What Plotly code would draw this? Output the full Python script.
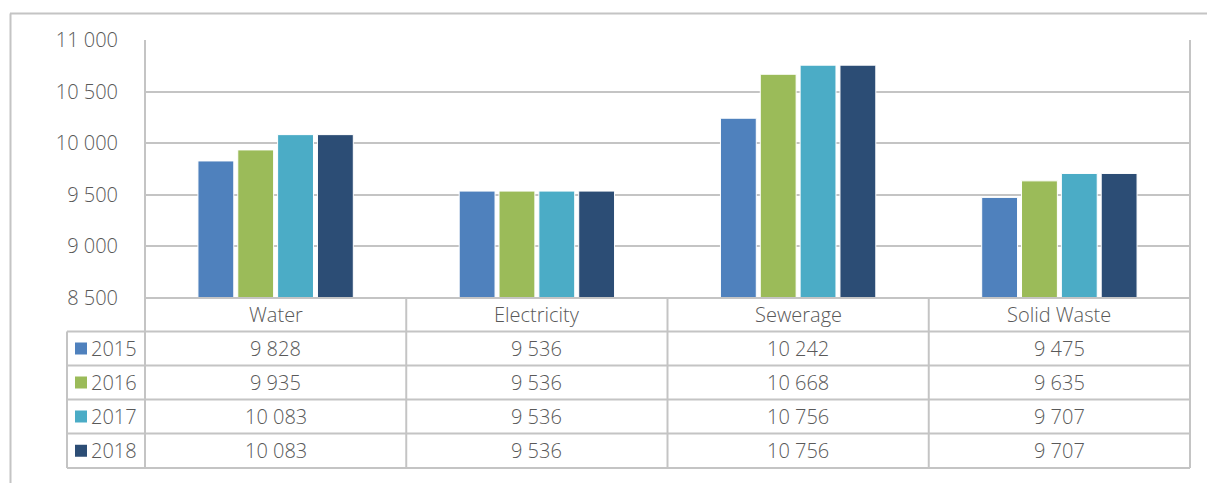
import plotly.graph_objects as go

categories = ["Water", "Electricity", "Sewerage", "Solid Waste"]
years = ["2015", "2016", "2017", "2018"]
values_2015 = [9828, 9536, 10242, 9475]
values_2016 = [9935, 9536, 10668, 9635]
values_2017 = [10083, 9536, 10756, 9707]
values_2018 = [10083, 9536, 10756, 9707]
series = [values_2015, values_2016, values_2017, values_2018]
colors = ["#4F81BD", "#9BBB59", "#4BACC6", "#2C4D75"]
y_ticks = [8500, 9000, 9500, 10000, 10500, 11000]

W, H = 1208, 483
L, R, T, B = 145, 1190, 40, 298  # plot area in pixels
grid_col = "#C4C4C4"
text_col = "#595959"
FONT = "Open Sans"
FS = 20
FW = 300

def fmt(v):
    return f"{v:,}".replace(",", " ")

def py(pix):  # pixel y -> paper y
    return (B - pix) / (B - T)

def px(pix):  # pixel x -> paper x
    return (pix - L) / (R - L)

fig = go.Figure()
x_idx = list(range(len(categories)))
for yr, vals, c in zip(years, series, colors):
    fig.add_trace(go.Bar(
        x=x_idx, y=vals, name=yr,
        marker=dict(color=c, line=dict(color="white", width=1)),
        showlegend=False,
    ))

shapes = []
ann = []
line = dict(color=grid_col, width=2)
tfont = dict(family=FONT, size=FS, color=text_col, weight=FW)

# outer chart border (top & left visible)
shapes.append(dict(type="line", xref="paper", yref="paper",
                   x0=px(10), x1=px(1207), y0=py(13.5), y1=py(13.5), line=line))
shapes.append(dict(type="line", xref="paper", yref="paper",
                   x0=px(10.5), x1=px(10.5), y0=py(13.5), y1=py(483), line=line))

# table geometry (pixel rows)
row_edges = [298, 331.5, 365.5, 399.5, 433.5, 468]
legend_left = 67

# vertical lines: plot left/right from top to table bottom
shapes.append(dict(type="line", xref="paper", yref="paper",
                   x0=0, x1=0, y0=1, y1=py(row_edges[-1]), line=line))
shapes.append(dict(type="line", xref="paper", yref="paper",
                   x0=1, x1=1, y0=1, y1=py(row_edges[-1]), line=line))
# internal column dividers
for i in range(1, len(categories)):
    shapes.append(dict(type="line", xref="x", yref="paper",
                       x0=i - 0.5, x1=i - 0.5, y0=0, y1=py(row_edges[-1]), line=line))
# legend column left edge
shapes.append(dict(type="line", xref="paper", yref="paper",
                   x0=px(legend_left), x1=px(legend_left),
                   y0=py(row_edges[1]), y1=py(row_edges[-1]), line=line))
# horizontal lines
shapes.append(dict(type="line", xref="paper", yref="paper",
                   x0=0, x1=1, y0=0, y1=0, line=line))
for e in row_edges[1:]:
    shapes.append(dict(type="line", xref="paper", yref="paper",
                       x0=px(legend_left), x1=1, y0=py(e), y1=py(e), line=line))

# header text
hdr_y = py((row_edges[0] + row_edges[1]) / 2)
for i, c in enumerate(categories):
    ann.append(dict(x=i, y=hdr_y, xref="x", yref="paper", text=c, showarrow=False,
                    font=tfont, xanchor="center", yanchor="middle"))

# rows
for r, (yr, vals, c) in enumerate(zip(years, series, colors)):
    yc = (row_edges[r + 1] + row_edges[r + 2]) / 2
    shapes.append(dict(type="rect", xref="paper", yref="paper",
                       x0=px(75), x1=px(87), y0=py(yc - 6), y1=py(yc + 6),
                       fillcolor=c, line=dict(width=0)))
    ann.append(dict(x=px(89), y=py(yc), xref="paper", yref="paper", text=yr,
                    showarrow=False, xanchor="left", yanchor="middle", font=tfont))
    for i, v in enumerate(vals):
        ann.append(dict(x=i, y=py(yc), xref="x", yref="paper", text=fmt(v),
                        showarrow=False, xanchor="center", yanchor="middle", font=tfont))

fig.update_layout(
    width=W, height=H,
    margin=dict(l=L, r=W - R, t=T, b=H - B, pad=0),
    paper_bgcolor="white", plot_bgcolor="white",
    barmode="group", bargap=0.39, bargroupgap=0.1,
    separators=". ",
    shapes=shapes, annotations=ann,
    xaxis=dict(range=[-0.5, len(categories) - 0.5], showticklabels=False,
               showgrid=False, zeroline=False, showline=False, fixedrange=True),
    yaxis=dict(range=[8500, 11000], tickvals=y_ticks, ticktext=[fmt(v) for v in y_ticks],
               showgrid=True, gridcolor=grid_col, gridwidth=2, zeroline=False,
               showline=False, ticks="", ticklabelstandoff=26,
               tickfont=tfont, fixedrange=True),
    font=dict(family=FONT, color=text_col),
)

fig.write_html("out.html")
